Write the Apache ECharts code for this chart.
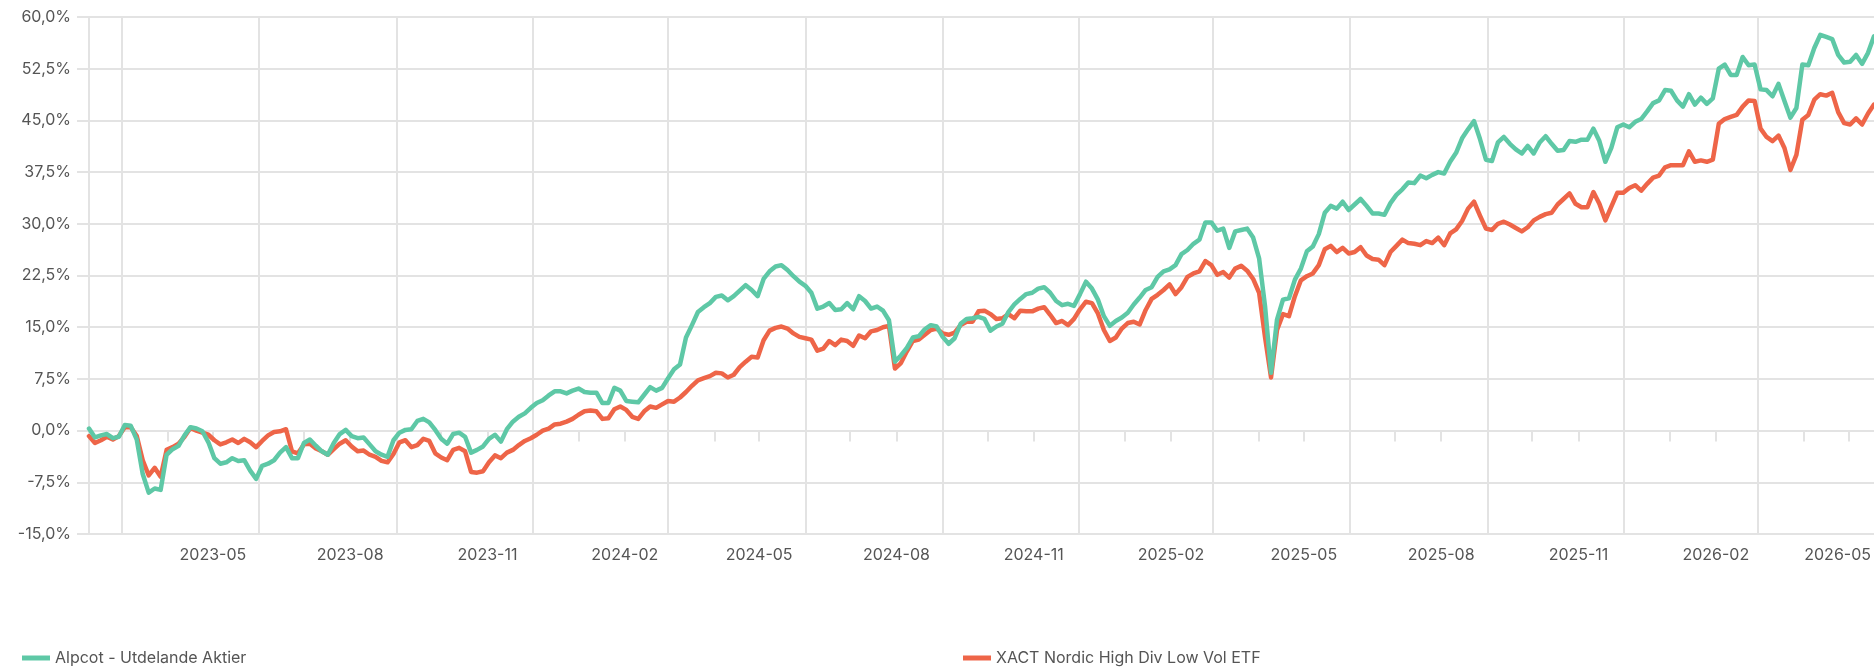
<!DOCTYPE html>
<html>
<head>
<meta charset="utf-8">
<title>Alpcot - Utdelande Aktier vs XACT Nordic High Div Low Vol ETF</title>
<script src="https://cdn.jsdelivr.net/npm/echarts@6/dist/echarts.min.js"></script>
<style>
    html, body { margin: 0; padding: 0; background: #fff; }
    #chart { width: 1874px; height: 668px; }
</style>
</head>
<body>
<div id="chart"></div>
<script>
// category axis = one entry per calendar day
const startDate = '2023-02-07'
const dayCount = 1197
// one reading every 4th day
const stepDays = 4

const seriesNames = ['Alpcot - Utdelande Aktier', 'XACT Nordic High Div Low Vol ETF']
const labelMonths = ['02', '05', '08', '11']
const splitMonths = ['03', '06', '09', '12']
const yMin = -15
const yMax = 60
const yStep = 7.5

// cumulative return, %
const alpcot = [
    0.3, -1.0, -0.7, -0.5, -1.1, -0.9, 0.8, 0.7, -1.3, -6.3,
    -9.0, -8.4, -8.6, -3.5, -2.7, -2.2, -0.7, 0.5, 0.3, -0.1,
    -1.7, -4.0, -4.8, -4.6, -4.0, -4.4, -4.3, -5.8, -7.0, -5.1,
    -4.8, -4.3, -3.2, -2.4, -4.0, -4.0, -1.8, -1.3, -2.2, -3.0,
    -3.5, -1.8, -0.5, 0.1, -0.8, -1.1, -1.0, -2.0, -3.0, -3.5,
    -3.8, -1.4, -0.3, 0.1, 0.2, 1.4, 1.7, 1.2, 0.1, -1.2,
    -1.9, -0.5, -0.3, -0.9, -3.2, -2.8, -2.3, -1.2, -0.6, -1.6,
    0.2, 1.3, 2.0, 2.5, 3.3, 4.0, 4.4, 5.1, 5.7, 5.7,
    5.4, 5.8, 6.1, 5.6, 5.5, 5.5, 4.0, 4.0, 6.2, 5.8,
    4.3, 4.2, 4.1, 5.2, 6.3, 5.8, 6.2, 7.6, 8.9, 9.6,
    13.5, 15.3, 17.2, 17.9, 18.5, 19.4, 19.6, 18.9, 19.5, 20.3,
    21.1, 20.4, 19.5, 22.0, 23.1, 23.8, 24.0, 23.3, 22.4, 21.6,
    21.0, 20.0, 17.7, 18.0, 18.5, 17.5, 17.6, 18.5, 17.6, 19.5,
    18.8, 17.7, 18.0, 17.4, 16.0, 10.0, 10.9, 12.0, 13.5, 13.7,
    14.7, 15.3, 15.1, 13.6, 12.6, 13.4, 15.5, 16.2, 16.3, 16.5,
    16.2, 14.5, 15.1, 15.5, 17.2, 18.3, 19.1, 19.8, 20.0, 20.6,
    20.8, 20.0, 18.8, 18.2, 18.4, 18.1, 19.8, 21.6, 20.6, 19.0,
    16.6, 15.2, 15.9, 16.4, 17.1, 18.3, 19.3, 20.4, 20.8, 22.3,
    23.1, 23.4, 24.0, 25.6, 26.2, 27.1, 27.7, 30.2, 30.2, 29.0,
    29.3, 26.5, 28.9, 29.1, 29.3, 28.0, 25.0, 18.0, 8.4, 16.1,
    19.0, 19.2, 21.9, 23.5, 26.0, 26.7, 28.5, 31.6, 32.6, 32.2,
    33.2, 32.0, 32.8, 33.6, 32.6, 31.5, 31.5, 31.3, 33.0, 34.2,
    35.0, 36.0, 35.9, 37.0, 36.6, 37.1, 37.5, 37.3, 39.0, 40.3,
    42.4, 43.7, 44.9, 42.3, 39.3, 39.1, 41.8, 42.6, 41.6, 40.8,
    40.2, 41.3, 40.2, 41.8, 42.7, 41.6, 40.6, 40.7, 42.0, 41.9,
    42.2, 42.2, 43.8, 42.0, 39.0, 41.0, 44.0, 44.4, 44.0, 44.8,
    45.2, 46.3, 47.5, 47.9, 49.4, 49.3, 47.9, 47.0, 48.8, 47.3,
    48.3, 47.4, 48.2, 52.5, 53.1, 51.6, 51.6, 54.2, 53.0, 53.1,
    49.5, 49.4, 48.5, 50.3, 47.8, 45.4, 46.8, 53.1, 53.0, 55.5,
    57.4, 57.1, 56.8, 54.5, 53.4, 53.5, 54.5, 53.2, 54.8, 57.2
]
const xact = [
    -0.8, -1.8, -1.4, -0.9, -1.3, -0.8, 0.5, 0.5, -0.8, -4.3,
    -6.5, -5.4, -6.7, -2.8, -2.4, -1.9, -0.9, 0.4, 0.0, -0.3,
    -0.6, -1.4, -2.0, -1.7, -1.3, -1.8, -1.2, -1.7, -2.4, -1.5,
    -0.7, -0.2, -0.1, 0.2, -3.0, -3.3, -2.0, -1.9, -2.6, -3.0,
    -3.5, -2.7, -1.9, -1.4, -2.3, -3.0, -2.9, -3.5, -3.8, -4.4,
    -4.6, -3.4, -1.7, -1.4, -2.4, -2.1, -1.2, -1.5, -3.3, -3.9,
    -4.3, -2.8, -2.5, -3.0, -6.0, -6.1, -5.9, -4.6, -3.6, -4.0,
    -3.2, -2.8, -2.1, -1.5, -1.1, -0.6, 0.0, 0.3, 0.9, 1.0,
    1.3, 1.7, 2.3, 2.8, 2.9, 2.8, 1.7, 1.8, 3.1, 3.5,
    3.0, 2.0, 1.7, 2.8, 3.5, 3.3, 3.8, 4.3, 4.2, 4.8,
    5.6, 6.5, 7.3, 7.6, 7.9, 8.4, 8.3, 7.7, 8.1, 9.2,
    10.0, 10.7, 10.6, 13.1, 14.5, 14.9, 15.1, 14.8, 14.1, 13.6,
    13.4, 13.2, 11.6, 11.9, 13.0, 12.4, 13.2, 13.0, 12.3, 13.8,
    13.4, 14.4, 14.6, 15.0, 15.2, 9.0, 9.8, 11.5, 13.0, 13.2,
    13.9, 14.6, 14.8, 14.1, 13.9, 14.2, 15.3, 15.8, 15.8, 17.3,
    17.4, 16.9, 16.2, 16.3, 16.9, 16.3, 17.4, 17.3, 17.3, 17.7,
    17.9, 16.8, 15.6, 15.9, 15.3, 16.2, 17.6, 18.7, 18.5, 17.0,
    14.6, 13.0, 13.5, 14.8, 15.6, 15.8, 15.4, 17.5, 19.1, 19.7,
    20.4, 21.2, 19.8, 20.8, 22.3, 22.8, 23.1, 24.6, 24.0, 22.6,
    23.0, 22.2, 23.5, 23.9, 23.2, 22.0, 20.0, 13.5, 7.7, 14.6,
    16.9, 16.6, 19.5, 21.8, 22.4, 22.8, 24.0, 26.3, 26.8, 25.9,
    26.5, 25.7, 25.9, 26.6, 25.4, 24.9, 24.8, 24.0, 25.9, 26.8,
    27.7, 27.2, 27.1, 26.9, 27.5, 27.2, 28.0, 26.9, 28.6, 29.2,
    30.4, 32.2, 33.2, 31.2, 29.3, 29.1, 30.0, 30.3, 29.9, 29.4,
    28.9, 29.5, 30.5, 31.0, 31.4, 31.6, 32.8, 33.6, 34.4, 32.9,
    32.4, 32.4, 34.6, 32.9, 30.5, 32.5, 34.5, 34.5, 35.2, 35.6,
    34.8, 35.8, 36.7, 37.0, 38.2, 38.5, 38.5, 38.5, 40.5, 39.0,
    39.2, 39.0, 39.3, 44.5, 45.2, 45.5, 45.8, 47.0, 47.9, 47.8,
    43.8, 42.6, 42.0, 42.8, 41.0, 37.8, 40.0, 45.1, 45.8, 48.0,
    48.8, 48.6, 49.0, 46.2, 44.6, 44.4, 45.3, 44.4, 46.0, 47.3
]

const days = []
const t0 = Date.parse(startDate + 'T00:00:00Z')
for (let i = 0; i < dayCount; i++) {
    days.push(new Date(t0 + i * 86400000).toISOString().slice(0, 10))
}
const toPoints = arr => arr.map((v, i) => [days[i * stepDays], v])

const gridColor = '#e3e3e3'
const textColor = '#555'
const font = 'Inter, "Noto Sans", sans-serif'

const chart = echarts.init(document.getElementById('chart'))
chart.setOption({
    animation: false,
    backgroundColor: '#fff',
    textStyle: { fontFamily: font },
    grid: { left: 89, right: 0, top: 17, bottom: 134, containLabel: false },
    legend: [{
        data: [seriesNames[0]],
        left: 17,
        top: 645,
        icon: 'rect',
        itemWidth: 28,
        itemHeight: 5,
        textStyle: { color: textColor, fontSize: 16, fontFamily: font }
    }, {
        data: [seriesNames[1]],
        left: 958,
        top: 645,
        icon: 'rect',
        itemWidth: 28,
        itemHeight: 5,
        textStyle: { color: textColor, fontSize: 16, fontFamily: font }
    }],
    xAxis: {
        type: 'category',
        data: days,
        boundaryGap: false,
        axisLine: { show: true, lineStyle: { color: gridColor, width: 2 } },
        axisTick: {
            show: true,
            length: 11,
            lineStyle: { color: gridColor, width: 2 },
            interval: (i, v) => i === 0 || v.slice(8) === '01'
        },
        axisLabel: {
            color: textColor,
            fontSize: 16,
            margin: 13,
            interval: (i, v) => v.slice(8) === '01' && labelMonths.includes(v.slice(5, 7)),
            // last label is pulled in so it stays inside the canvas
            formatter: (v, i) => i > dayCount - 30 ? `{end|${v.slice(0, 7)}}` : v.slice(0, 7),
            rich: { end: { color: textColor, fontSize: 16, padding: [0, 22, 0, 0] } }
        },
        splitLine: {
            show: true,
            lineStyle: { color: gridColor, width: 2 },
            interval: (i, v) => v.slice(8) === '01' && splitMonths.includes(v.slice(5, 7))
        }
    },
    yAxis: {
        type: 'value',
        min: yMin,
        max: yMax,
        interval: yStep,
        axisLine: { show: true, lineStyle: { color: gridColor, width: 2 } },
        axisTick: { show: true, length: 12, lineStyle: { color: gridColor, width: 2 } },
        axisLabel: {
            color: textColor,
            fontSize: 16,
            margin: 18,
            formatter: v => v.toFixed(1).replace('.', ',') + '%'
        },
        splitLine: { show: true, lineStyle: { color: gridColor, width: 2 } }
    },
    series: [{
        name: seriesNames[0],
        type: 'line',
        z: 3,
        showSymbol: false,
        color: '#5ec8a6',
        lineStyle: { width: 4.5, cap: 'round', join: 'round' },
        data: toPoints(alpcot)
    }, {
        name: seriesNames[1],
        type: 'line',
        z: 2,
        showSymbol: false,
        color: '#ee6548',
        lineStyle: { width: 4.5, cap: 'round', join: 'round' },
        data: toPoints(xact)
    }]
})
</script>
</body>
</html>
